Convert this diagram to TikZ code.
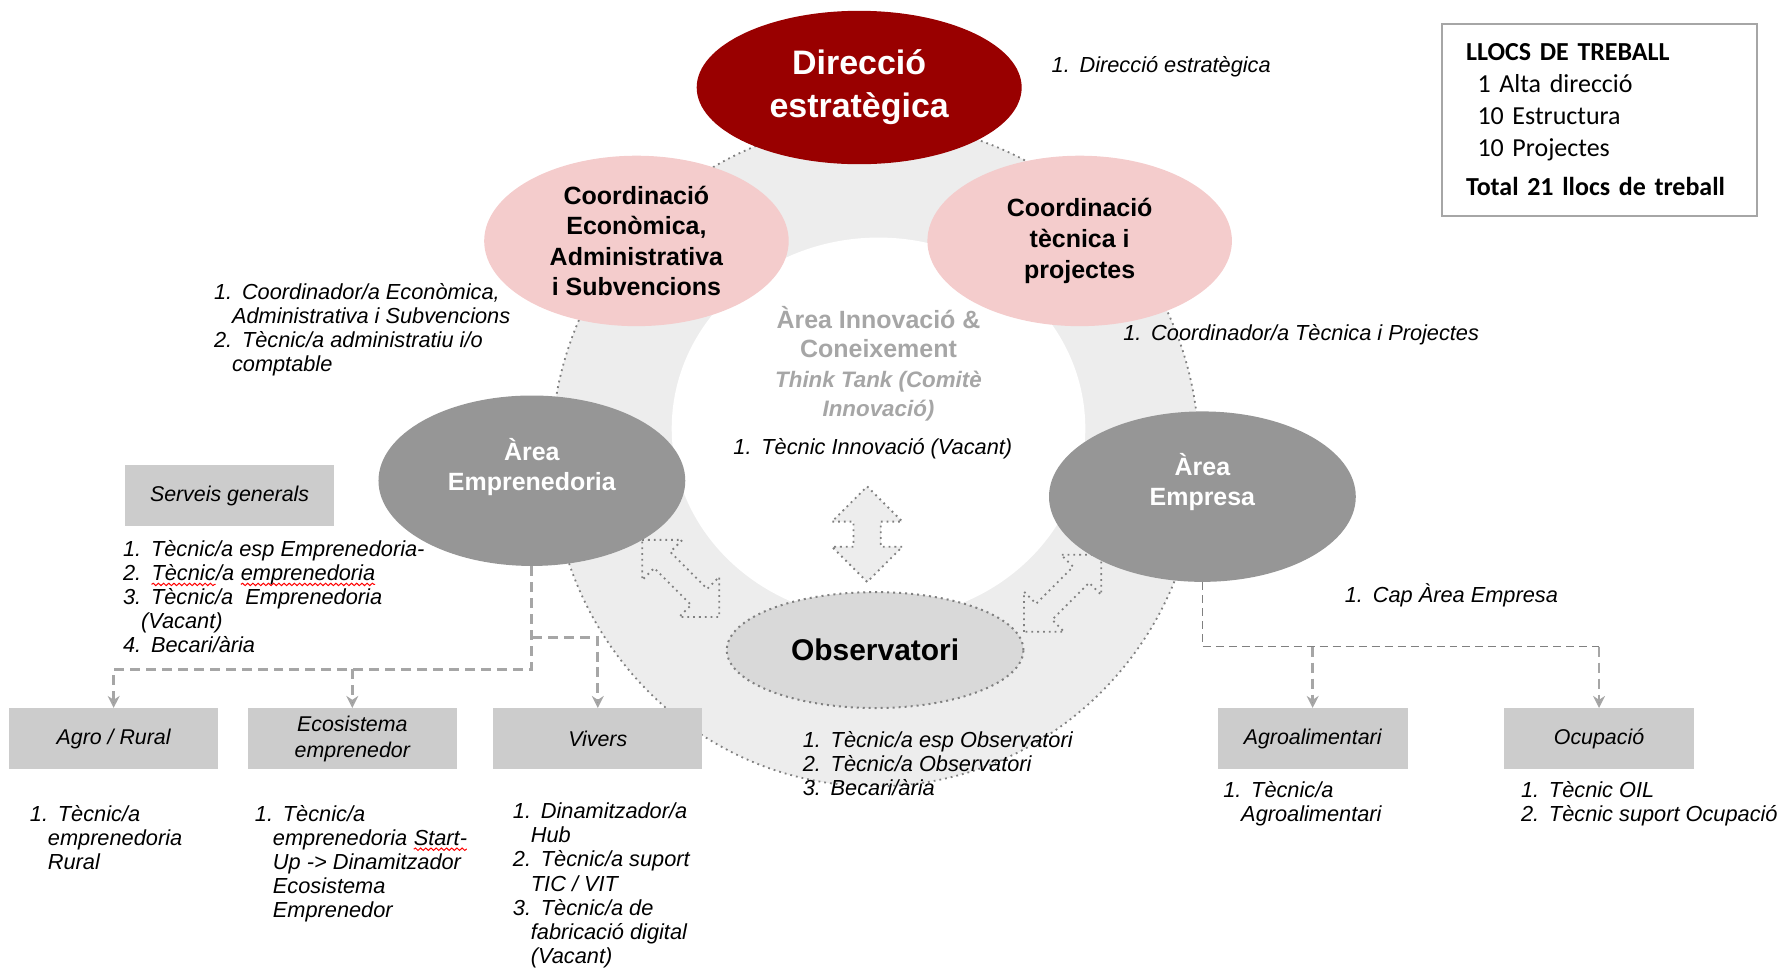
\documentclass[tikz,border=0pt]{standalone}
\usepackage{fontspec}
\setmainfont{Liberation Sans}
\newfontfamily\calibri{Carlito}
\usetikzlibrary{shapes.geometric,arrows.meta,decorations.pathmorphing}

\definecolor{dirred}{RGB}{153,0,0}
\definecolor{coordpink}{RGB}{244,204,204}
\definecolor{areagrey}{RGB}{150,150,150}
\definecolor{obsgrey}{RGB}{217,217,217}
\definecolor{ringgrey}{RGB}{237,237,237}
\definecolor{boxgrey}{RGB}{204,204,204}
\definecolor{innogrey}{RGB}{166,166,166}
\definecolor{dotgrey}{RGB}{128,128,128}

% list numbers and hanging indent
\newcommand{\nr}[1]{\makebox[14pt][l]{#1}}
\newcommand{\cont}{\hspace*{9pt}}
% red spell-check squiggle
\newcommand{\spellerr}[1]{\tikz[baseline=(sp.base)]{\node[inner sep=0pt, outer sep=0pt, anchor=base,
    execute at begin node={}] (sp) {#1};
    \draw[red, line width=0.5pt, decorate, decoration={snake, amplitude=0.6pt, segment length=2.6pt}]
    ([yshift=-2pt]sp.base west) -- ([yshift=-2pt]sp.base east);}}

\tikzset{
  direccio/.style={ellipse, fill=dirred, text=white, align=center, inner sep=0pt,
    minimum width=5.72cm, minimum height=2.7cm, font=\fontsize{17}{21.5}\selectfont\bfseries},
  coord/.style={ellipse, fill=coordpink, align=center, inner sep=0pt,
    minimum width=5.36cm, minimum height=3cm, font=\fontsize{12.5}{15.3}\selectfont\bfseries},
  areaell/.style={ellipse, fill=areagrey, inner sep=0pt, minimum width=5.4cm, minimum height=3cm},
  areatxt/.style={text=white, align=center, inner sep=0pt, font=\fontsize{12.5}{15.3}\selectfont\bfseries},
  obs/.style={ellipse, fill=obsgrey, draw=dotgrey, dotted, line width=1pt,
    minimum width=5.22cm, minimum height=2.04cm, font=\fontsize{15}{18}\selectfont\bfseries},
  innotxt/.style={text=innogrey, align=center, inner sep=0pt, font=\fontsize{12.5}{14.8}\selectfont\bfseries},
  subbox/.style={fill=boxgrey, align=center, inner sep=0pt, minimum width=3.68cm, minimum height=1.07cm,
    font=\fontsize{10.7}{13}\selectfont\itshape},
  lst/.style={anchor=north west, align=left, inner sep=0pt, execute at begin node=\strut,
    font=\fontsize{10.9}{12.1}\selectfont\itshape},
  llocs/.style={draw=innogrey, line width=1.2pt, align=left, text width=4.7cm, inner xsep=0.42cm,
    minimum height=3.38cm, font=\calibri\fontsize{13}{15.9}\selectfont},
  link/.style={draw=innogrey, line width=1.4pt, dash pattern=on 5pt off 3pt,
    -{Stealth[length=6pt,width=6pt,fill=dotgrey]}},
  elbow/.style={draw=dotgrey, line width=0.8pt, dash pattern=on 4pt off 2.5pt},
  ringedge/.style={draw=dotgrey, dotted, line width=0.9pt},
  dblarrow/.style={fill=ringgrey, draw=dotgrey, dotted, line width=0.9pt}
}

\begin{document}
\begin{tikzpicture}[x=0.02cm, y=-0.02cm]
    \useasboundingbox (0,0) rectangle (1568,851);

    % ring
    \fill[ringgrey] (770,400) ellipse [x radius=5.7cm, y radius=5.84cm];
    \draw[ringedge] (770,400) ellipse [x radius=5.7cm, y radius=5.84cm];
    \fill[white] (773,377) ellipse [x radius=3.64cm, y radius=3.36cm];

    % double arrows
    \foreach \cx/\cy/\ang/\len/\hw/\sw in {763/470/90/42/31/12, 599/509/-45/48/25/10, 935/522/45/48/25/10}
        \draw[dblarrow, shift={(\cx,\cy)}, rotate=\ang]
            ({-\len},0) -- ({-\len+\hw},{-\hw}) -- ({-\len+\hw},{-\sw}) -- ({\len-\hw},{-\sw})
            -- ({\len-\hw},{-\hw}) -- ({\len},0) -- ({\len-\hw},{\hw}) -- ({\len-\hw},{\sw})
            -- ({-\len+\hw},{\sw}) -- ({-\len+\hw},{\hw}) -- cycle;

    % ellipses
    \node[direccio] (dir) at (756,77) {Direcció\\estratègica};
    \node[coord] (ceco) at (560,212) {Coordinació\\Econòmica,\\Administrativa\\i Subvencions};
    \node[coord] (ctec) at (950,212) {Coordinació\\tècnica i\\projectes};
    \node[areaell] (emp) at (468,423) {};
    \node[areatxt] (empt) at (468,411) {Àrea\\Emprenedoria};
    \node[areaell] (empr) at (1058,437) {};
    \node[areatxt] (emprt) at (1058,424) {Àrea\\Empresa};
    \node[obs] (obs) at (770,572) {Observatori};

    \node[innotxt] (inno) at (773,320) {Àrea Innovació \&\\Coneixement\\
        {\fontsize{11.2}{13.8}\selectfont\itshape Think Tank (Comitè}\\
        {\fontsize{11.2}{13.8}\selectfont\itshape Innovació)}};

    % boxes
    \node[subbox] (serv) at (202,436) {Serveis generals};
    \node[subbox] (agro) at (100,650) {Agro / Rural};
    \node[subbox] (ecos) at (310,650) {Ecosistema\\emprenedor};
    \node[subbox] (viv) at (526,650) {Vivers};
    \node[subbox, minimum width=3.34cm] (agal) at (1155,650) {Agroalimentari};
    \node[subbox, minimum width=3.34cm] (ocup) at (1407,650) {Ocupació};

    % connectors
    \coordinate (empbend) at (468,589);
    \coordinate (vivbend) at (468,561);
    \draw[link] (emp.south) -- (empbend) -| (agro.north);
    \draw[link] (empbend -| ecos.north) -- (ecos.north);
    \draw[link] (vivbend) -| (viv.north);
    \coordinate (emprbend) at (1058,569);
    \draw[elbow] (empr.south) -- (emprbend) -- (emprbend -| ocup.north);
    \draw[link] (emprbend -| ocup.north) -- (ocup.north);
    \draw[link] (emprbend -| agal.north) -- (agal.north);

    % job lists
    \node[lst] (ldir) at (925,49) {\nr{1.}Direcció estratègica};
    \node[lst] (leco) at (188,249) {\nr{1.}Coordinador/a Econòmica,\\\cont Administrativa i Subvencions\\
        \nr{2.}Tècnic/a administratiu i/o\\\cont comptable};
    \node[lst] (ltec) at (988,284) {\nr{1.}Coordinador/a Tècnica i Projectes};
    \node[lst] (linn) at (645,385) {\nr{1.}Tècnic Innovació (Vacant)};
    \node[lst] (lserv) at (108,475) {\nr{1.}Tècnic/a esp Emprenedoria-\\
        \nr{2.}\spellerr{Tècnic}/a \spellerr{emprenedoria}\\
        \nr{3.}Tècnic/a\ \ Emprenedoria\\\cont(Vacant)\\\nr{4.}Becari/ària};
    \node[lst] (lempr) at (1183,513) {\nr{1.}Cap Àrea Empresa};
    \node[lst] (lobs) at (706,643) {\nr{1.}Tècnic/a esp Observatori\\\nr{2.}Tècnic/a Observatori\\\nr{3.}Becari/ària};
    \node[lst] (lagro) at (26,708) {\nr{1.}Tècnic/a\\\cont emprenedoria\\\cont Rural};
    \node[lst] (lecos) at (224,708) {\nr{1.}Tècnic/a\\\cont emprenedoria \spellerr{Start-}\\
        \cont Up -> Dinamitzador\\\cont Ecosistema\\\cont Emprenedor};
    \node[lst] (lviv) at (451,706) {\nr{1.}Dinamitzador/a\\\cont Hub\\\nr{2.}Tècnic/a suport\\\cont TIC / VIT\\
        \nr{3.}Tècnic/a de\\\cont fabricació digital\\\cont (Vacant)};
    \node[lst] (lagal) at (1076,687) {\nr{1.}Tècnic/a\\\cont Agroalimentari};
    \node[lst] (locup) at (1338,687) {\nr{1.}Tècnic OIL\\\nr{2.}Tècnic suport Ocupació};

    % legend
    \node[llocs, anchor=north west] (llocs) at (1268,20) {\textbf{LLOCS DE TREBALL}\\
        \hspace*{5.7pt}1 Alta direcció\\\hspace*{5.7pt}10 Estructura\\\hspace*{5.7pt}10 Projectes\\[4pt]
        \mbox{\textbf{Total 21 llocs de treball}}};
\end{tikzpicture}
\end{document}
